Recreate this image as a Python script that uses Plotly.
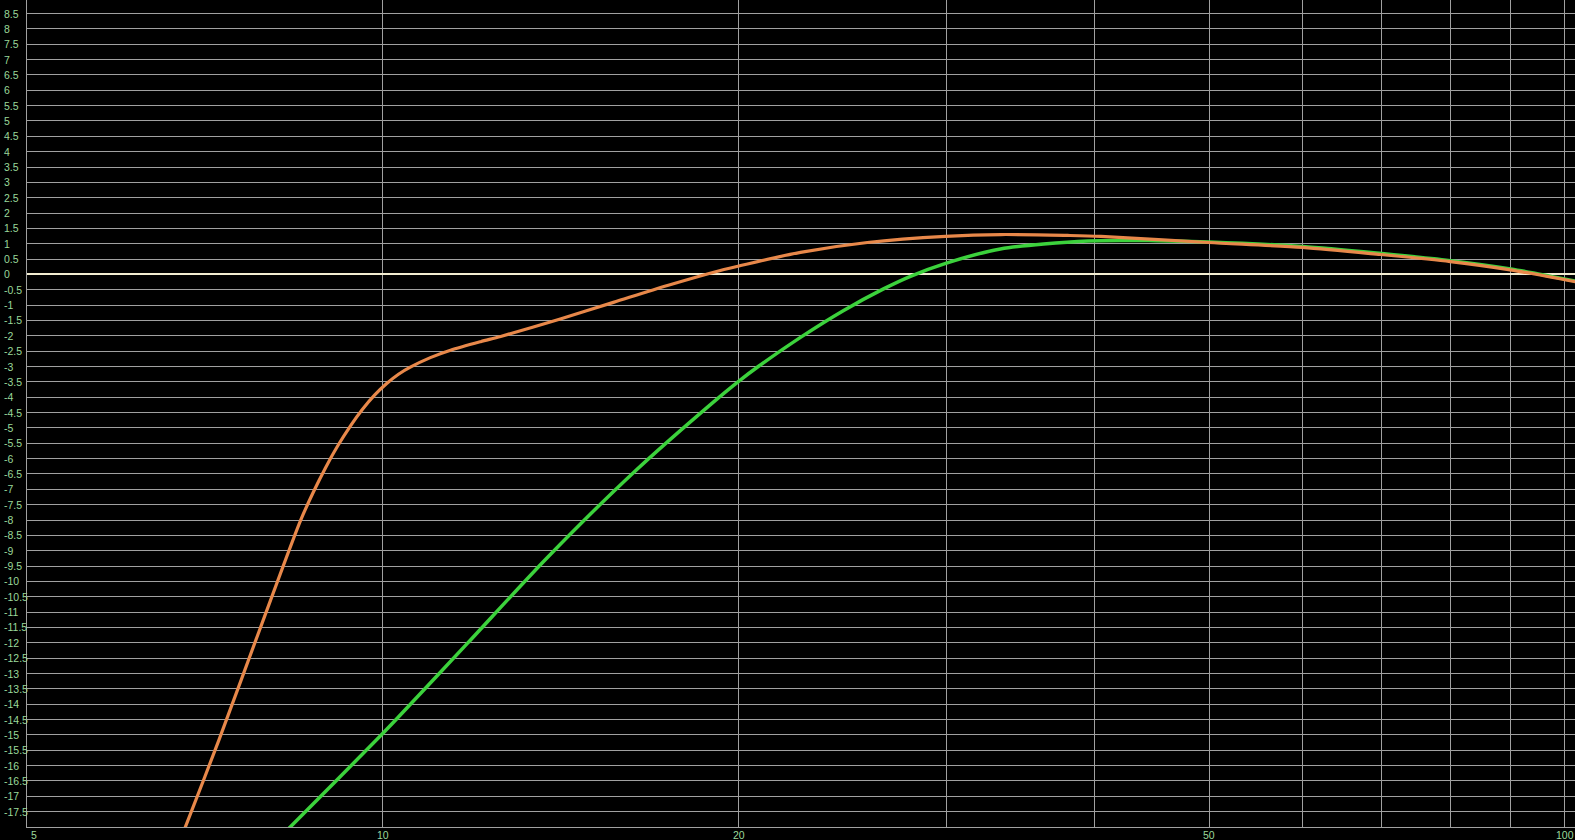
import numpy as np
import plotly.graph_objects as go

# orange response (Hz, dB)
freq_orange = [6.70, 6.81, 7.265, 7.88, 8.52, 8.737, 8.94, 9.157, 9.39, 9.612, 9.84, 10.07,
               10.31, 10.55, 10.97, 11.41, 12.10, 12.58, 14.13, 15.67, 17.41, 19.30, 20.08,
               22.56, 25.70, 29.92, 33.32, 37.96, 40.5, 49.95, 59.98, 69.8, 80.0, 89.9, 102.1]
db_orange = [-18.7, -17.98, -15.18, -11.50, -8.01, -7.08, -6.31, -5.59, -4.93, -4.39, -3.93, -3.56,
             -3.25, -3.02, -2.71, -2.47, -2.19, -2.02, -1.45, -0.91, -0.36, 0.13, 0.29,
             0.72, 1.04, 1.24, 1.30, 1.27, 1.24, 1.04, 0.88, 0.65, 0.42, 0.15, -0.24]

# green response (Hz, dB)
freq_green = [8.15, 8.35, 9.96, 10.29, 11.79, 13.78, 16.30, 19.05, 20.0, 20.78, 22.56, 24.52,
              26.52, 27.95, 29.98, 33.30, 39.5, 45.0, 50.0, 60.0, 70.0, 80.0, 90.0, 102.1]
db_green = [-18.4, -18.0, -15.02, -14.45, -12.02, -9.22, -6.45, -4.15, -3.48, -3.0, -2.05, -1.18,
            -0.47, -0.06, 0.37, 0.83, 1.09, 1.10, 1.06, 0.91, 0.68, 0.45, 0.18, -0.22]

x_grid = [10, 20, 30, 40, 50, 60, 70, 80, 90, 100]
x_label_vals = [5, 10, 20, 50, 100]
x_label_text = ["5", "10", "20", "50", "100"]

y_label_text = ["8.5", "8", "7.5", "7", "6.5", "6", "5.5", "5", "4.5", "4", "3.5", "3", "2.5",
                "2", "1.5", "1", "0.5", "0", "-0.5", "-1", "-1.5", "-2", "-2.5", "-3", "-3.5",
                "-4", "-4.5", "-5", "-5.5", "-6", "-6.5", "-7", "-7.5", "-8", "-8.5", "-9",
                "-9.5", "-10", "-10.5", "-11", "-11.5", "-12", "-12.5", "-13", "-13.5", "-14",
                "-14.5", "-15", "-15.5", "-16", "-16.5", "-17", "-17.5"]

label_color = "#9ad89a"
grid_color = "#a0a0a0"

fig = go.Figure()

fig.add_trace(go.Scatter(x=freq_green, y=db_green, mode="lines",
                         line=dict(color="#3cd23c", width=3.5, shape="spline", smoothing=0.8)))
fig.add_trace(go.Scatter(x=freq_orange, y=db_orange, mode="lines",
                         line=dict(color="#e8884a", width=3.2, shape="spline", smoothing=0.8)))

# -3 dB reference line
fig.add_shape(type="line", xref="paper", x0=0, x1=1, yref="y", y0=-3, y1=-3,
              line=dict(color="#a8d8cc", width=1), layer="below")

# y labels, left aligned like the original
for t in y_label_text:
    fig.add_annotation(x=-0.01615, xref="paper", xanchor="left", y=float(t), yref="y",
                       text=t, showarrow=False, font=dict(color=label_color, size=10.5))

# x labels
for v, t in zip(x_label_vals, x_label_text):
    fig.add_annotation(x=np.log10(v), xref="x", y=0, yref="paper", yanchor="top",
                       xanchor="left" if v == 5 else "center", xshift=2 if v == 5 else 0,
                       text=t, showarrow=False, font=dict(color=label_color, size=10.5))

fig.update_layout(
    width=1575, height=840,
    margin=dict(l=27, r=0, t=0, b=13),
    paper_bgcolor="#000000", plot_bgcolor="#000000",
    showlegend=False,
    font=dict(family="Liberation Sans"),
    xaxis=dict(type="log", range=[np.log10(5), np.log10(102.0)],
               tickvals=x_grid, showticklabels=False, ticks="",
               showgrid=True, gridcolor=grid_color, gridwidth=1,
               showline=True, linecolor=grid_color, linewidth=1, zeroline=False),
    yaxis=dict(range=[-18, 8.94], tick0=0, dtick=0.5, showticklabels=False, ticks="",
               showgrid=True, gridcolor=grid_color, gridwidth=1,
               showline=True, linecolor=grid_color, linewidth=1,
               zeroline=True, zerolinecolor="#f2ecd0", zerolinewidth=1.5),
)

fig.write_html("out.html", config={"displayModeBar": False},
               post_script="document.body.style.margin='0';document.body.style.background='#000';")
